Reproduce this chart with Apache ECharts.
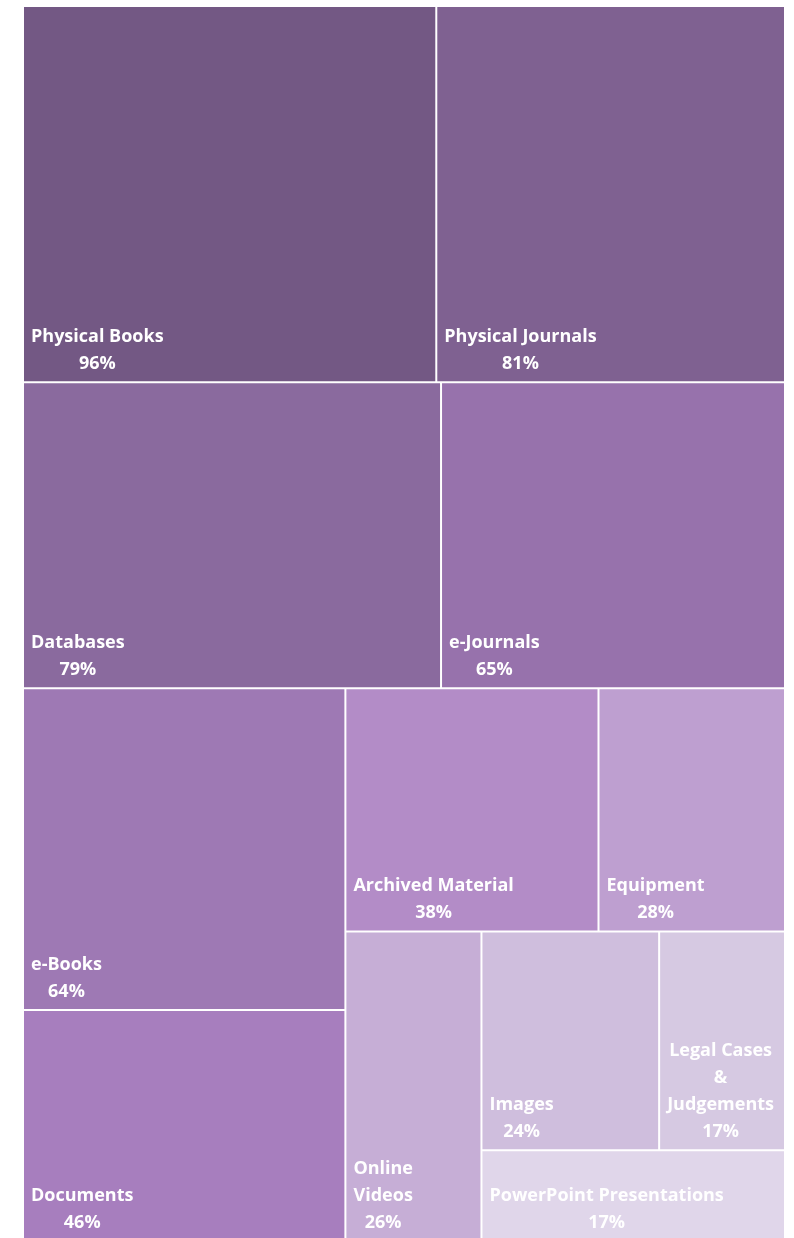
<!DOCTYPE html>
<html>
<head>
<meta charset="utf-8">
<script src="https://cdn.jsdelivr.net/npm/echarts@6/dist/echarts.min.js"></script>
<style>
  html, body { margin: 0; padding: 0; background: #fff; overflow: hidden; }
  #chart { width: 794px; height: 1242px; }
</style>
</head>
<body>
<div id="chart"></div>
<script>
// Library resources used (share of respondents, %)
const categories = [
  'Physical Books', 'Physical Journals', 'Databases', 'e-Journals',
  'e-Books', 'Documents', 'Archived Material', 'Equipment',
  'Online\nVideos', 'Images', 'Legal Cases\n&\nJudgements', 'PowerPoint Presentations'
];
const values = [96, 81, 79, 65, 64, 46, 38, 28, 26, 24, 17, 17];
const colors = [
  '#735884', '#7f6191', '#8a6a9e', '#9772ac',
  '#9e79b4', '#a77ebe', '#b38cc7', '#be9fd0',
  '#c6aed6', '#cfbedd', '#d6c9e2', '#e0d6ea'
];

const FONT_SIZE = 18;
const FONT_FAMILY = '"Open Sans", Lato, sans-serif';
const PAD_LEFT = 7;

// width of the widest label line, so every line can be centred under it
const ctx = document.createElement('canvas').getContext('2d');
ctx.font = 'bold ' + FONT_SIZE + 'px ' + FONT_FAMILY;
function blockWidth(text) {
  return Math.max.apply(null, text.split('\n').map(s => ctx.measureText(s).width));
}

function leaf(i) {
  const w = blockWidth(categories[i] + '\n' + values[i] + '%');
  return {
    name: categories[i],
    value: values[i],
    itemStyle: { color: colors[i] },
    label: { position: [PAD_LEFT + w / 2, '100%'] }
  };
}

// invisible grouping nodes that keep the smaller tiles together
function group(children) {
  return { children: children, itemStyle: { borderWidth: 0, gapWidth: 0 } };
}

const data = [0, 1, 2, 3, 4, 5, 6, 7].map(leaf).concat([
  group([leaf(8), group([leaf(9), leaf(10), leaf(11)])])
]);

const chart = echarts.init(document.getElementById('chart'), null, { renderer: 'canvas' });
chart.setOption({
  animation: false,
  series: [{
    type: 'treemap',
    left: 22,
    right: 8,
    top: 5,
    bottom: 0,
    roam: false,
    nodeClick: false,
    sort: false,
    leafDepth: null,
    breadcrumb: { show: false },
    squareRatio: 1,
    itemStyle: {
      borderColor: '#ffffff',
      borderWidth: 1,
      gapWidth: 0
    },
    label: {
      show: true,
      formatter: p => p.name + '\n' + p.value + '%',
      color: '#ffffff',
      fontFamily: FONT_FAMILY,
      fontWeight: 'bold',
      fontSize: FONT_SIZE,
      lineHeight: 27,
      align: 'center',
      verticalAlign: 'bottom',
      offset: [0, -4],
      padding: 0,
      overflow: 'none'
    },
    upperLabel: { show: false },
    emphasis: { disabled: true },
    data: data
  }]
});
</script>
</body>
</html>
